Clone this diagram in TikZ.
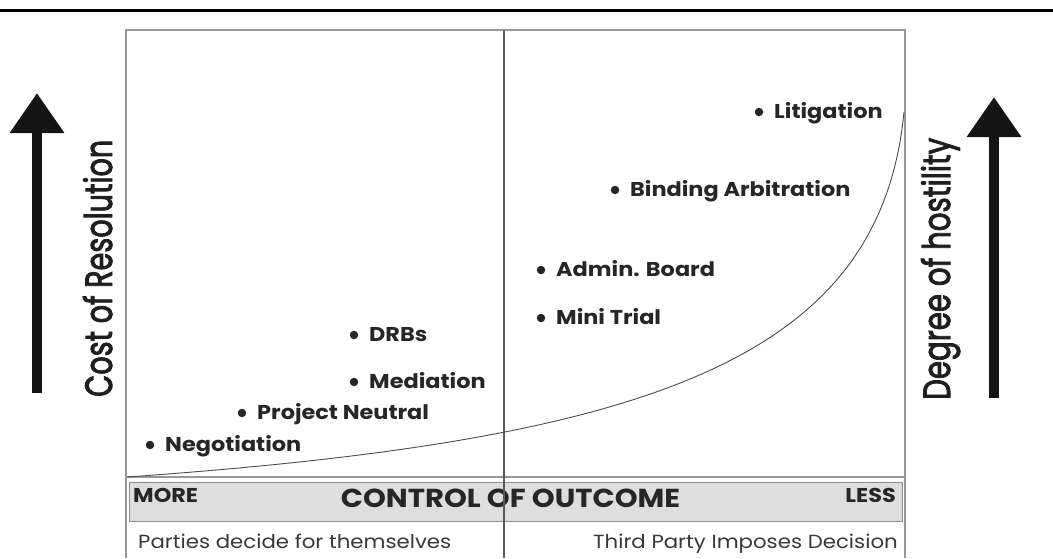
\documentclass[tikz,border=0pt]{standalone}
\usepackage{fontspec}
\setmainfont{Poppins}
\newfontfamily\sidefont[FakeBold=2.6]{Poppins}
\usetikzlibrary{arrows.meta}
\newcommand\cgw[1]{\scalebox{1.12}[1]{#1}}
\begin{document}
\begin{tikzpicture}[x=1pt,y=-1pt,
  lab/.style={font=\fontsize{20}{20}\selectfont\bfseries, text=black!85, inner sep=0pt, anchor=base west, xshift=15pt, yshift=-6pt},
  bul/.style={circle, fill=black!85, inner sep=0pt, minimum size=8.5pt},
  frameline/.style={draw=black!40, line width=1.3pt},
  midline/.style={draw=black!65, line width=1.1pt},
  bigarrow/.style={line width=10pt, draw=black!92, -{Triangle[width=52pt,length=40pt]}},
  sidetext/.style={rotate=90, anchor=base west, inner sep=0pt, text=black!88},
  bandtext/.style={inner sep=0pt, text=black!85, font=\bfseries},
  foottext/.style={inner sep=0pt, text=black!78, font=\fontsize{19}{19}\selectfont}]
\useasboundingbox (0,0) rectangle (1053,558);
% top rule
\draw[line width=3pt] (0,10.5) -- (1053,10.5);
% frame
\draw[frameline] (126,558) -- (126,30) -- (905,30) -- (905,558);
\draw[frameline] (126,477) -- (905,477);
% band
\node[draw=black!45, fill=black!13, line width=0.9pt, minimum width=773pt, minimum height=39pt, inner sep=0pt] (band) at (515.5,501.5) {};
\node[bandtext, font=\fontsize{20}{20}\selectfont\bfseries, anchor=base west] (more) at (133,502) {\cgw{MORE}};
\node[bandtext, font=\fontsize{20}{20}\selectfont\bfseries, anchor=base east] (less) at (896,502) {\cgw{LESS}};
\node[bandtext, font=\fontsize{26}{26}\selectfont\bfseries, anchor=base] (ctrl) at (510.5,507) {\cgw{CONTROL OF OUTCOME}};
% footer texts
\node[foottext, anchor=base west] (parties) at (138,548) {\cgw{Parties decide for themselves}};
\node[foottext, anchor=base east] (third) at (898,548) {\cgw{Third Party Imposes Decision}};
% middle line
\draw[midline] (504,30) -- (504,558);
% curve
\coordinate (c0) at (127,477);
\coordinate (c1) at (904,112);
\draw[black!70, line width=0.9pt] (c0) .. controls (650,440) and (880,360) .. (c1);
% items
\node[bul] (d1) at (759,112) {}; \node[lab] (l1) at (d1.center) {\cgw{Litigation}};
\node[bul] (d2) at (615,190) {}; \node[lab] (l2) at (d2.center) {\cgw{Binding Arbitration}};
\node[bul] (d3) at (541,270) {}; \node[lab] (l3) at (d3.center) {\cgw{Admin. Board}};
\node[bul] (d4) at (541,318) {}; \node[lab] (l4) at (d4.center) {\cgw{Mini Trial}};
\node[bul] (d5) at (354,335) {}; \node[lab] (l5) at (d5.center) {\cgw{DRBs}};
\node[bul] (d6) at (354,382) {}; \node[lab] (l6) at (d6.center) {\cgw{Mediation}};
\node[bul] (d7) at (242,413) {}; \node[lab] (l7) at (d7.center) {\cgw{Project Neutral}};
\node[bul] (d8) at (150,445) {}; \node[lab] (l8) at (d8.center) {\cgw{Negotiation}};
% side arrows
\coordinate (a1s) at (37,393);
\coordinate (a1e) at (37,93);
\coordinate (a2s) at (994,398);
\coordinate (a2e) at (994,97);
\draw[bigarrow] (a1s) -- (a1e);
\draw[bigarrow] (a2s) -- (a2e);
% side texts
\node[sidetext] (cost) at (112,397) {\resizebox{257pt}{29pt}{\fontsize{30}{30}\sidefont Cost of Resolution}};
\node[sidetext] (host) at (950,400) {\resizebox{262pt}{29pt}{\fontsize{30}{30}\sidefont Degree of hostility}};
\end{tikzpicture}
\end{document}
